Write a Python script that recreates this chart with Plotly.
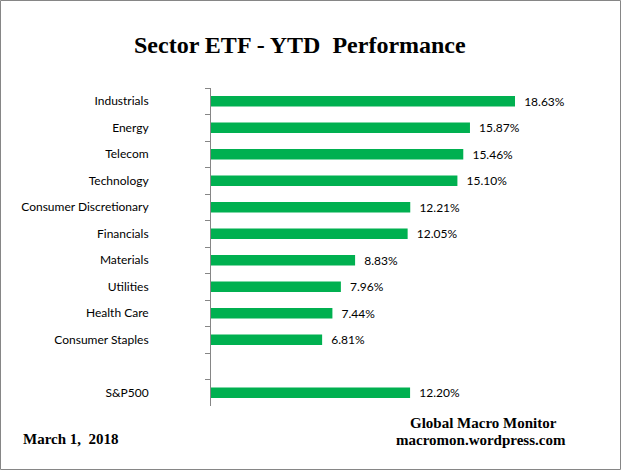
import plotly.graph_objects as go

categories = ["Industrials", "Energy", "Telecom", "Technology", "Consumer Discretionary",
              "Financials", "Materials", "Utilities", "Health Care", "Consumer Staples",
              " ", "S&P500"]
values = [18.63, 15.87, 15.46, 15.10, 12.21, 12.05, 8.83, 7.96, 7.44, 6.81, None, 12.20]

W, H = 622, 471
L, R, T, B = 211, 83, 88, 65
pw, ph = W - L - R, H - T - B

labels = [("" if v is None else "\u00a0\u00a0" + f"{v:.2f}%") for v in values]

fig = go.Figure(go.Bar(
    x=values, y=categories, orientation="h",
    marker=dict(color="#00B050", line=dict(width=0)),
    width=0.4,
    text=labels, textposition="outside", cliponaxis=False, constraintext="none",
    textfont=dict(family="Lato", size=12, color="#000000"),
    hoverinfo="skip",
))

def px(x):
    return (x - L) / pw

def py(y):
    return (H - B - y) / ph

fig.update_layout(
    width=W, height=H,
    margin=dict(l=L, r=R, t=T, b=B),
    paper_bgcolor="white", plot_bgcolor="white",
    showlegend=False,
    font=dict(family="Lato", size=12, color="#000000"),
    xaxis=dict(range=[0.0, 20.1], visible=False, showgrid=False, zeroline=False),
    yaxis=dict(
        categoryorder="array", categoryarray=categories, autorange="reversed",
        showline=True, linecolor="#868686", linewidth=1,
        ticks="outside", tickson="boundaries", ticklen=5, tickcolor="#868686",
        ticklabelstandoff=59,
        tickfont=dict(family="Lato", size=12, color="#000000"),
        showgrid=False,
    ),
    shapes=[dict(type="rect", xref="paper", yref="paper",
                 x0=px(0.5), x1=px(W - 1.5), y0=py(H - 1.5), y1=py(0.5),
                 line=dict(color="#868686", width=1))],
    annotations=[
        dict(text="<b>Sector ETF - YTD  Performance</b>", xref="paper", yref="paper",
             x=px(300), y=py(45), xanchor="center", yanchor="middle",
             showarrow=False, font=dict(family="Liberation Serif", size=24, color="#000000")),
        dict(text="<b>March 1,  2018</b>", xref="paper", yref="paper",
             x=px(21), y=py(439), xanchor="left", yanchor="middle",
             showarrow=False, font=dict(family="Liberation Serif", size=15, color="#000000")),
        dict(text="<b>Global Macro Monitor</b>", xref="paper", yref="paper",
             x=px(483), y=py(423), xanchor="center", yanchor="middle",
             showarrow=False, font=dict(family="Liberation Serif", size=15, color="#000000")),
        dict(text="<b>macromon.wordpress.com</b>", xref="paper", yref="paper",
             x=px(481), y=py(440), xanchor="center", yanchor="middle",
             showarrow=False, font=dict(family="Liberation Serif", size=15, color="#000000")),
    ],
)

fig.write_html("out.html", config={"displayModeBar": False},
               post_script="document.body.style.margin='0';")
